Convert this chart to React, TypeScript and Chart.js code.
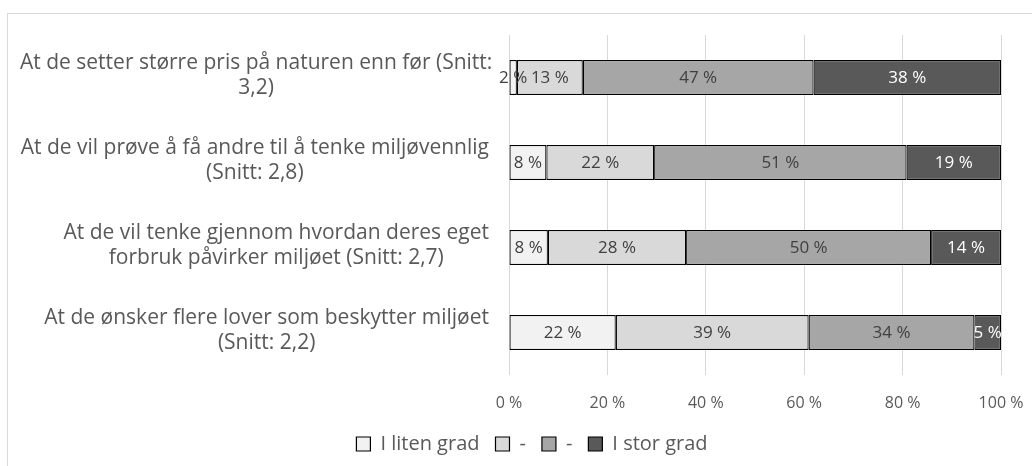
import React, { useEffect, useRef } from "react";
import { Chart, registerables } from "chart.js";

Chart.register(...registerables);

const categories: string[][] = [
  ["At de setter større pris på naturen enn før (Snitt:", "3,2)"],
  ["At de vil prøve å få andre til å tenke miljøvennlig", "(Snitt: 2,8)"],
  ["At de vil tenke gjennom hvordan deres eget", "forbruk påvirker miljøet (Snitt: 2,7)"],
  ["At de ønsker flere lover som beskytter miljøet", "(Snitt: 2,2)"],
];
const seriesNames = ["I liten grad", "-", "-", "I stor grad"];
const litenGrad = [1.6, 7.6, 7.9, 21.7];
const litt = [13.4, 21.9, 28.1, 39.2];
const mye = [46.9, 51.3, 49.8, 33.7];
const storGrad = [38.1, 19.2, 14.2, 5.4];
const xTicks = [0, 20, 40, 60, 80, 100];
const colors = ["#F2F2F2", "#D9D9D9", "#A6A6A6", "#595959"];
const labelColors = ["#404040", "#404040", "#404040", "#FFFFFF"];

const FONT = "'Open Sans'";

const framePlugin = {
  id: "frame",
  beforeDraw(chart: any) {
    const ctx = chart.ctx;
    ctx.save();
    ctx.fillStyle = "#FFFFFF";
    ctx.fillRect(0, 0, chart.width, chart.height);
    ctx.strokeStyle = "#D9D9D9";
    ctx.lineWidth = 1;
    ctx.strokeRect(7.5, 13.5, chart.width + 20, chart.height + 20);
    ctx.restore();
  },
};

const catLabelPlugin = {
  id: "catLabels",
  afterDraw(chart: any) {
    const ctx = chart.ctx;
    const yScale = chart.scales.y;
    const right = chart.chartArea.left - 20;
    const minLeft = 20;
    const lh = 25;
    ctx.save();
    ctx.font = `21px ${FONT}`;
    ctx.fillStyle = "#595959";
    ctx.textAlign = "center";
    ctx.textBaseline = "middle";
    categories.forEach((lines, i) => {
      const w = Math.max(...lines.map((l) => ctx.measureText(l).width));
      let cx = right - w / 2;
      if (cx - w / 2 < minLeft) cx = minLeft + w / 2;
      const cy = yScale.getPixelForValue(i) - 2;
      const top = cy - ((lines.length - 1) * lh) / 2;
      lines.forEach((l, j) => ctx.fillText(l, cx, top + j * lh));
    });
    ctx.restore();
  },
};

const valueLabelPlugin = {
  id: "valueLabels",
  afterDatasetsDraw(chart: any) {
    const ctx = chart.ctx;
    ctx.save();
    ctx.font = `17px ${FONT}`;
    ctx.textAlign = "center";
    ctx.textBaseline = "middle";
    chart.data.datasets.forEach((ds: any, di: number) => {
      const meta = chart.getDatasetMeta(di);
      meta.data.forEach((bar: any, i: number) => {
        const v = ds.data[i];
        const x = (bar.x + bar.base) / 2;
        ctx.fillStyle = labelColors[di];
        ctx.fillText(`${Math.round(v)} %`, x, bar.y + 1);
      });
    });
    ctx.restore();
  },
};

export default function App() {
  const ref = useRef<HTMLCanvasElement | null>(null);
  useEffect(() => {
    if (!ref.current) return;
    const data = [litenGrad, litt, mye, storGrad];
    const chart = new Chart(ref.current, {
      type: "bar",
      data: {
        labels: categories.map((c) => c.join(" ")),
        datasets: data.map((d, i) => ({
          label: seriesNames[i],
          data: d,
          backgroundColor: colors[i],
          borderColor: "#000000",
          borderWidth: 1.2,
          borderSkipped: false,
          barPercentage: 0.41,
          categoryPercentage: 1,
        })),
      },
      options: {
        indexAxis: "y",
        animation: false,
        responsive: true,
        maintainAspectRatio: false,
        layout: { padding: { left: 63, right: 31, top: 35, bottom: 2 } },
        scales: {
          x: {
            stacked: true,
            min: 0,
            max: 100,
            afterBuildTicks: (scale: any) => {
              scale.ticks = xTicks.map((v) => ({ value: v }));
            },
            afterFit: (scale: any) => {
              scale.paddingRight = 0;
              scale.paddingLeft = 0;
              scale.height = 43;
            },
            ticks: {
              color: "#595959",
              font: { family: FONT, size: 16 },
              padding: 19,
              callback: (v: any) => `${v} %`,
            },
            grid: { color: "#D9D9D9", drawTicks: false, lineWidth: 1 },
            border: { display: false },
          },
          y: {
            stacked: true,
            ticks: { display: false },
            grid: { display: false },
            border: { display: false },
            afterFit: (scale: any) => {
              scale.width = 446;
            },
          },
        },
        plugins: {
          legend: {
            position: "bottom",
            labels: {
              color: "#595959",
              font: { family: FONT, size: 20 },
              boxWidth: 14,
              boxHeight: 14,
              padding: 16,
            },
          },
          tooltip: { enabled: false },
        },
      },
      plugins: [framePlugin, catLabelPlugin, valueLabelPlugin],
    } as any);
    return () => chart.destroy();
  }, []);
  return (
    <div style={{ position: "fixed", left: 0, top: 0, width: 1032, height: 466 }}>
      <canvas ref={ref} />
    </div>
  );
}
